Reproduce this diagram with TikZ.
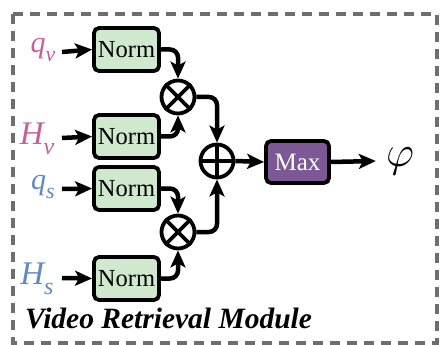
\documentclass[tikz,border=0pt]{standalone}
\usepackage{fontspec}
\usepackage{graphicx}
\setmainfont{Liberation Serif}
\usetikzlibrary{arrows.meta,calc}
\definecolor{normfill}{RGB}{208,232,206}
\definecolor{maxfill}{RGB}{124,88,148}
\definecolor{vpink}{RGB}{196,96,158}
\definecolor{sblue}{RGB}{96,138,196}
\definecolor{framegray}{RGB}{110,110,110}
% italic symbol with a lowered italic subscript
\newcommand{\symsub}[3]{{\itshape #1\raisebox{-0.3em}{\fontsize{#3}{#3}\selectfont #2}}}
\begin{document}
\begin{tikzpicture}[x=1pt,y=-1pt,
  normbox/.style={draw=black,line width=3.8pt,fill=normfill,rounded corners=5pt,
    minimum width=65pt,minimum height=43pt,inner sep=0pt,
    font=\fontsize{24.5}{24.5}\selectfont},
  maxbox/.style={draw=black,line width=3.8pt,fill=maxfill,rounded corners=5pt,
    minimum width=63pt,minimum height=42pt,inner sep=0pt,text=white,
    font=\fontsize{25}{25}\selectfont},
  opcirc/.style={draw=black,line width=3.8pt,circle,minimum size=33pt,inner sep=0pt},
  conn/.style={line width=4.5pt,-{Stealth[length=17pt,width=15pt,inset=4pt]},rounded corners=8pt},
  lbl/.style={inner sep=0pt}
]
\useasboundingbox (0,0) rectangle (445,345);
% module frame
\draw[framegray,line width=3.6pt,dash pattern=on 10pt off 7pt] (13,14) rectangle (437,343);

% inputs
\node[lbl,text=vpink,font=\fontsize{30}{30}\selectfont] (qv) at (43,50) {\symsub{q}{v}{22}};
\node[lbl,text=vpink,font=\fontsize{33}{33}\selectfont] (Hv) at (37,139) {\symsub{H}{v}{24}};
\node[lbl,text=sblue,font=\fontsize{30}{30}\selectfont] (qs) at (43,187) {\symsub{q}{s}{22}};
\node[lbl,text=sblue,font=\fontsize{33}{33}\selectfont] (Hs) at (37,279) {\symsub{H}{s}{24}};

% normalisation blocks
\node[normbox] (n1) at (126.5,49.5) {Norm};
\node[normbox] (n2) at (126.5,136.5) {Norm};
\node[normbox] (n3) at (126.5,188.5) {Norm};
\node[normbox] (n4) at (126.5,278.5) {Norm};

% operators
\node[opcirc] (m1) at (178,97) {};
\draw[line width=3.8pt] (m1.north west) -- (m1.south east) (m1.north east) -- (m1.south west);
\node[opcirc] (m2) at (178,232) {};
\draw[line width=3.8pt] (m2.north west) -- (m2.south east) (m2.north east) -- (m2.south west);
\node[opcirc] (add) at (217,161) {};
\draw[line width=3.8pt] (add.north) -- (add.south) (add.west) -- (add.east);

\node[maxbox] (mx) at (297.5,162) {Max};
\node[lbl,font=\fontsize{24}{24}\selectfont] (phi) at (400,161) {\scalebox{1.75}{$\varphi$}};

% connectors
\draw[conn] (62,52) -- (n1.west);
\draw[conn] (62,138) -- (n2.west);
\draw[conn] (62,189) -- (n3.west);
\draw[conn] (62,278) -- (n4.west);

\draw[conn] (n1.east) -| (m1.north);
\draw[conn] (n2.east) -| (m1.south);
\draw[conn] (n3.east) -| (m2.north);
\draw[conn] (n4.east) -| (m2.south);
\draw[conn] (m1.east) -| (add.north);
\draw[conn] (m2.east) -| (add.south);
\draw[conn] (add.east) -- (mx.west);
\draw[conn] (mx.east) -- ([xshift=-10pt]phi.west);

% module caption
\node[anchor=base west,inner sep=0pt,font=\fontsize{29.5}{29.5}\selectfont\bfseries\itshape] (cap) at (25,328) {Video Retrieval Module};
\end{tikzpicture}
\end{document}
